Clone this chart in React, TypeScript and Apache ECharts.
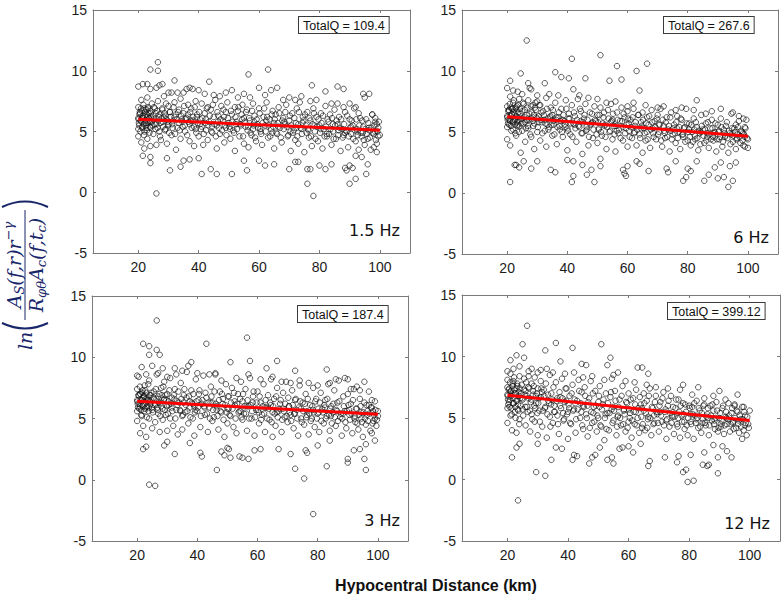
import React, { useEffect, useRef } from "react";
import * as echarts from "echarts";

// ---------- data ----------
const xTicks = [20, 40, 60, 80, 100];
const freqLabels = ["1.5 Hz", "6 Hz", "3 Hz", "12 Hz"];
const totalQLabels = ["TotalQ = 109.4", "TotalQ = 267.6", "TotalQ = 187.4", "TotalQ = 399.12"];

const fit15 = [[20, 6.0], [100, 5.1]];
const fit6 = [[20, 6.25], [100, 4.65]];
const fit3 = [[20, 6.4], [100, 5.35]];
const fit12 = [[20, 6.85], [100, 4.8]];

const points15 = [
  [20,6.1],[20,5.2],[20,4.6],[20,7.0],[20.5,6.6],[21,5.8],[21,4.1],[21,7.6],[21.5,6.3],[22,5.0],[22,3.6],[22,6.9],[22.5,5.5],[23,6.2],[23,7.8],[23,4.4],[23.5,5.9],[24,6.7],[24,3.8],[24,5.3],[24.5,7.3],[25,6.0],[25,4.8],
  [25.5,6.9],[26,5.6],[26,3.9],[26.5,7.5],[27,6.4],[27,5.0],[27.5,4.3],[28,6.8],[28,5.8],[28.5,7.9],[29,5.2],[29,6.3],[29.5,4.0],[30,7.1],[30,5.6],
  [30.5,6.6],[31,4.7],[31.5,5.9],[32,7.4],[32,6.2],[32.5,3.5],[33,5.3],[33.5,6.8],[34,4.4],[34,7.7],[34.5,5.8],[35,6.5],
  [35.5,5.0],[36,6.1],[36.5,7.2],[37,4.2],[37,5.6],[37.5,6.9],[38,5.9],[38.5,3.8],[39,7.5],[39,5.2],[39.5,6.4],[40,4.6],
  [40.5,6.0],[41,7.3],[41,5.4],[41.5,3.9],[42,6.5],[42.5,5.1],[43,7.0],[43,4.3],[43.5,5.8],[44,6.8],[44.5,4.9],[45,6.2],
  [45.5,7.6],[46,5.5],[46,3.6],[46.5,6.3],[47,4.8],[47.5,7.1],[48,5.9],[48.5,4.1],[49,6.6],[49,5.3],[49.5,7.4],[50,5.7],
  [50.5,4.4],[51,6.4],[51.5,5.1],[52,7.0],[52,3.4],[52.5,5.8],[53,6.7],[53.5,4.6],[54,5.5],[54.5,7.2],[55,4.0],[55,6.1],
  [55.5,5.4],[56,6.8],[56.5,3.7],[57,5.9],[57.5,4.7],[58,7.3],[58,5.2],[58.5,6.3],[59,4.2],[59.5,5.6],[60,6.9],
  [60.5,5.0],[61,3.9],[61.5,6.2],[62,5.5],[62.5,7.4],[63,4.5],[63.5,6.0],[64,5.2],[64.5,6.7],[65,3.6],[65,5.7],
  [65.5,6.4],[66,4.8],[66.5,7.0],[67,5.3],[67.5,4.1],[68,6.1],[68.5,5.6],[69,7.2],[69.5,4.6],[70,5.9],
  [70.5,3.4],[71,6.5],[71.5,5.1],[72,4.3],[72.5,6.9],[73,5.6],[73,4.0],[73.5,7.4],[74,5.2],[74.5,6.2],[75,3.3],
  [75.5,5.5],[76,6.6],[76.5,4.5],[77,5.9],[77.5,3.8],[78,6.9],[78.5,5.0],[79,6.2],[79.5,4.2],[80,5.5],
  [80.5,6.5],[81,3.6],[81.5,5.2],[82,7.1],[82.5,4.6],[83,5.8],[83.5,6.4],[84,3.9],[84.5,5.0],[85,6.8],
  [85.5,4.4],[86,5.6],[86.5,6.2],[87,3.4],[87.5,5.2],[88,4.7],[88.5,6.6],[89,5.0],[89.5,3.7],[90,6.0],
  [90.5,4.8],[91,5.5],[91.5,6.9],[92,4.2],[92.5,5.0],[93,3.5],[93.5,6.1],[94,4.6],[94.5,5.4],[95,3.9],
  [95.5,6.0],[96,4.4],[96.5,5.1],[97,3.5],[97.5,6.4],[98,4.8],[98.5,5.8],[99,4.0],[99.5,5.3],[100,4.7],
  [26,-0.1],[78,-0.3],[76,0.7],[90,0.7],[92,1.1],[26.5,10.7],[24,10.1],[26.5,10.0],[63,10.1],[56.5,9.7],[32,9.2],[43.5,9.1],
  [77.5,8.8],[86,8.7],[88,8.5],[94.5,8.1],[96.5,8.1],[95,7.8],[30.5,1.8],[41,1.5],[46,1.5],[51,1.5],[56,1.8],[76,1.9],[77,1.9],
  [84,2.3],[88.5,2.0],[89,1.8],[95.5,1.5],[96,2.3],[99,3.3],[98,3.7],[99.5,4.6],[99,5.6],[98.5,6.1],[97.5,6.4],[65,2.3],[55,2.6],
  [70,1.9],[24,2.4],[24,2.9],[21.5,3.0],[35,2.6],[34,2.1],[29.5,2.8],[37,2.7],[40,2.8],[44,1.9],[60,2.6],[62,2.2],[72,2.5],[73,2.5],
  [80,2.2],[82,1.9],[90,2.2],[91,2.0],[92,3.0],[94,2.9],
  [20,8.7],[21.5,8.9],[23,8.9],[24,8.5],[26,8.6],[27,8.8],[28,8.9],[30,8.2],[31,8.2],[33,8.2],[35,8.2],[36,8.5],[37,8.6],[38,8.5],
  [40,8.4],[42,8.1],[45,8.0],[47,7.9],[49,8.2],[51,8.4],[53,7.8],[55,8.1],[57,7.8],[60,8.6],[62,8.0],[64,8.4],[66,8.6],[68,7.6],
  [70,7.8],[72,7.6],[74,7.9],[77,7.5],[79,7.6],[82,8.3],[84,7.3],[86,7.3],[88,7.0],[90,7.3],[92,7.0],[93,6.5]
];
const core15 = [
  [20.2,5.7],[20.4,6.4],[20.7,5.0],[20.9,6.9],[21.2,6.1],[21.4,5.4],[21.7,7.2],[21.9,4.7],[22.2,6.3],[22.4,5.7],[22.7,6.8],[22.9,5.1],[23.2,7.0],[23.4,6.5],[23.7,4.9],[23.9,5.8],[24.2,6.2],[24.7,5.5],[25.2,7.0],[25.7,5.2],
  [26.2,6.7],[26.7,5.9],[27.2,4.6],[27.7,6.1],[28.2,5.4],[28.7,6.5],[29.2,7.3],[29.7,5.8],[30.2,4.9],[30.7,6.2],[31.2,5.6],[31.7,7.0],[32.2,4.8],[32.7,6.0],[33.2,6.6],[33.7,5.1],[34.2,6.3],[34.7,5.4],[35.2,7.1],[35.7,6.0],
  [36.2,4.7],[36.7,5.8],[37.2,6.6],[37.7,5.3],[38.2,6.2],[38.7,7.0],[39.2,4.9],[39.7,5.7],[40.2,6.6],[40.7,5.2],[41.2,6.1],[41.7,4.8],[42.2,5.7],[42.7,6.9],[43.2,5.5],[43.7,6.3],[44.2,5.0],[44.7,7.2],[45.2,5.6],[45.7,4.6],
  [46.2,6.6],[46.7,5.3],[47.2,6.0],[47.7,5.1],[48.2,6.8],[48.7,5.5],[49.2,4.7],[49.7,6.1],[50.2,5.4],[50.7,6.7],[51.2,5.8],[51.7,4.9],[52.2,6.2],[52.7,5.2],[53.2,7.0],[53.7,5.6],[54.2,6.4],[54.7,4.6],[55.2,5.8],[55.7,6.6],
  [56.2,5.1],[56.7,6.1],[57.2,4.9],[57.7,6.7],[58.2,5.5],[58.7,4.5],[59.2,6.0],[59.7,5.3],[60.2,6.5],[60.7,4.8],[61.2,5.7],[61.7,6.9],[62.2,5.0],[62.7,6.2],[63.2,5.5],[63.7,4.6],[64.2,6.4],[64.7,5.4],[65.2,6.0],[65.7,4.9],
  [66.2,5.7],[66.7,6.5],[67.2,4.5],[67.7,5.9],[68.2,5.2],[68.7,6.6],[69.2,5.4],[69.7,4.7],[70.2,6.3],[70.7,5.5],[71.2,4.9],[71.7,6.1],[72.2,5.7],[72.7,4.6],[73.2,6.6],[73.7,5.3],[74.2,4.8],[74.7,5.9],[75.2,6.4],[75.7,4.9],
  [76.2,5.2],[76.7,6.1],[77.2,4.6],[77.7,5.6],[78.2,6.5],[78.7,4.4],[79.2,5.4],[79.7,6.0],[80.2,4.9],[80.7,5.7],[81.2,6.3],[81.7,4.6],[82.2,5.4],[82.7,6.0],[83.2,4.8],[83.7,5.2],[84.2,6.1],[84.7,4.4],[85.2,5.5],[85.7,5.9],
  [86.2,4.7],[86.7,5.3],[87.2,6.0],[87.7,4.5],[88.2,5.6],[88.7,5.1],[89.2,6.3],[89.7,4.6],[90.2,5.3],[90.7,5.9],[91.2,4.4],[91.7,5.1],[92.2,6.0],[92.7,4.7],[93.2,5.5],[93.7,4.9],[94.2,5.9],[94.7,4.3],[95.2,5.2],[95.7,4.8],
  [96.2,5.7],[96.7,4.5],[97.2,5.3],[97.7,4.9],[98.2,5.5],[98.7,4.3],[99.2,5.0],[99.7,5.8]
];
const near15 = [
  [20.1,6.0],[20.3,5.5],[20.6,6.5],[20.8,5.9],[21.1,6.7],[21.3,5.3],[21.6,6.1],[21.8,5.6],[22.1,6.6],[22.3,5.9],[22.6,5.3],[22.8,6.4],[23.1,5.7],[23.3,6.9],[23.6,6.1],[23.8,5.4],[24.1,6.5],[24.4,5.8],[24.9,6.3],[25.4,5.6],
  [25.9,6.5],[26.4,5.3],[26.9,6.2],[27.4,5.7],[27.9,6.9],[28.4,6.2],[28.9,5.1],[29.4,6.0],[29.9,5.5],[30.4,6.6],[31.4,5.3],[32.4,6.4],[33.4,5.7],[34.4,6.0],[35.4,5.5],[36.4,6.4],[37.4,5.9],[38.4,5.4],[39.4,6.2],[40.4,5.6],
  [42.4,6.0],[44.4,5.4],[46.4,5.8],[48.4,6.2],[50.4,5.2],[52.4,5.6],[54.4,6.0],[56.4,5.4],[58.4,5.8],[60.4,5.2],[62.4,5.9],[64.4,4.9],[66.4,5.4],[68.4,5.8],[70.4,5.0],[72.4,5.3],[74.4,5.7],[76.4,5.1],[78.4,5.5],[80.4,5.2],
  [82.4,4.8],[84.4,5.6],[86.4,5.1],[88.4,4.9],[90.4,5.4],[92.4,5.2],[94.4,4.9],[96.4,5.3],[98.4,5.0]
];

const points6 = [
  [20,6.3],[20,5.4],[20,7.1],[20,4.4],[20.5,6.8],[21,5.9],[21,7.9],[21,3.9],[21.5,6.5],[22,5.2],[22,7.4],[22.5,6.0],[23,4.7],[23,6.9],[23.5,5.6],[24,7.7],[24,6.2],[24.5,3.3],[25,5.1],[25,6.7],
  [25.5,7.3],[26,5.8],[26,4.2],[26.5,6.4],[27,7.6],[27,5.3],[27.5,8.6],[28,6.1],[28,4.6],[28.5,7.2],[29,5.7],[29,3.6],[29.5,6.8],[30,7.5],[30,5.0],
  [30.5,6.3],[31,4.3],[31,7.2],[31.5,5.8],[32,6.7],[32.5,5.1],[33,7.8],[33,3.8],[33.5,6.1],[34,5.4],[34.5,7.0],[35,4.7],[35,6.4],
  [35.5,5.6],[36,7.4],[36.5,4.0],[37,6.2],[37.5,5.2],[38,6.9],[38.5,4.6],[39,5.9],[39.5,7.6],[40,5.3],[40,3.5],
  [40.5,6.5],[41,4.8],[41.5,7.2],[42,5.7],[42.5,6.3],[43,4.2],[43.5,7.7],[44,5.4],[44.5,6.7],[45,4.9],[45,3.2],
  [45.5,6.1],[46,7.3],[46.5,5.2],[47,3.9],[47.5,6.6],[48,5.7],[48.5,4.5],[49,7.1],[49.5,5.9],[50,6.4],[50,4.1],
  [50.5,5.3],[51,7.0],[51.5,4.7],[52,6.2],[52.5,5.6],[53,3.6],[53.5,6.8],[54,5.0],[54.5,7.3],[55,4.4],[55,6.0],
  [55.5,5.5],[56,3.4],[56.5,6.6],[57,4.9],[57.5,5.9],[58,7.0],[58.5,4.3],[59,6.2],[59.5,5.3],[60,3.8],[60,6.7],
  [60.5,5.1],[61,6.0],[61.5,4.5],[62,6.9],[62.5,5.5],[63,3.9],[63.5,6.4],[64,4.8],[64.5,5.8],[65,6.6],[65,3.3],
  [65.5,5.3],[66,4.3],[66.5,6.2],[67,5.6],[67.5,3.7],[68,6.8],[68.5,4.9],[69,5.9],[69.5,4.4],[70,6.4],
  [70.5,5.0],[71,6.9],[71.5,3.8],[72,5.5],[72.5,4.5],[73,6.2],[73.5,5.2],[74,3.4],[74.5,6.6],[75,4.8],
  [75.5,5.6],[76,4.1],[76.5,6.3],[77,5.0],[77.5,3.6],[78,6.0],[78.5,4.6],[79,5.4],[79.5,6.9],[80,4.3],
  [80.5,5.7],[81,3.9],[81.5,5.0],[82,6.1],[82.5,4.4],[83,5.4],[83.5,3.5],[84,4.9],[84.5,6.4],[85,5.2],
  [85.5,4.1],[86,5.7],[86.5,4.6],[87,3.7],[87.5,5.3],[88,6.0],[88.5,4.3],[89,5.0],[89.5,3.4],[90,5.6],
  [90.5,4.4],[91,6.1],[91.5,3.8],[92,5.2],[92.5,4.7],[93,5.8],[93.5,3.3],[94,4.9],[94.5,6.5],[95,4.2],
  [95.5,5.3],[96,3.6],[96.5,4.8],[97,5.9],[97.5,4.1],[98,5.0],[98.5,3.9],[99,4.6],[99.5,6.0],[100,4.4],
  [26.5,12.5],[51,11.3],[41.5,11.0],[66.5,10.6],[56.5,10.4],[63,10.0],[24.5,9.8],[36,9.9],[40.5,9.4],[38,9.5],[46,9.4],[54,9.2],
  [58,9.3],[21,9.2],[27,9.0],[32.5,9.0],[64,8.4],[83,7.6],[21,0.9],[41.5,0.9],[49,0.9],[93.5,0.5],[95,1.0],[85.5,1.0],[78.5,1.0],
  [90,1.2],[79.5,1.3],[42,1.4],[46.5,1.5],[59.5,1.4],[59,1.6],[58.5,1.9],[36,1.7],[34.5,1.9],[48,1.9],[67,1.8],[73.5,1.7],[73,2.0],
  [80,2.0],[81,1.8],[87,1.5],[92,1.3],[94,2.2],[64,2.4],[63,2.6],[45,2.3],[51,2.8],[51,2.2],[23,2.3],[22.5,2.3],[24,2.1],[25.5,2.6],
  [28,2.0],[30,2.6],[40,2.7],[42,2.6],[60,2.2],[76,2.6],[83,2.6],[89,2.1],[91,2.5],[96,2.5],[99,3.8],[100,3.7],[98.5,6.1],[97,6.3],
  [96,5.6],[99,5.4],
  [20,8.6],[22,8.4],[23.5,8.3],[25,8.1],[28,8.5],[30,8.0],[34,8.1],[37,8.0],[42,8.5],[44,8.0],[47,7.8],[50,7.7],[53,7.4],[56,7.5],
  [60,7.1],[62,7.4],[66,7.2],[70,7.0],[72,7.1],[76,6.8],[78,7.0],[82,6.8],[86,6.5],[88,6.7],[91,6.9],[95,6.6]
];
const core6 = [
  [20.2,6.0],[20.4,6.7],[20.7,5.6],[20.9,7.3],[21.2,6.3],[21.4,5.1],[21.7,6.9],[21.9,5.8],[22.2,7.6],[22.4,6.4],[22.7,4.9],[22.9,6.1],[23.2,7.1],[23.4,5.5],[23.7,6.6],[23.9,5.0],[24.2,6.9],[24.7,5.7],[25.2,7.4],[25.7,6.2],
  [26.2,5.3],[26.7,7.0],[27.2,6.0],[27.7,4.8],[28.2,6.6],[28.7,5.5],[29.2,7.0],[29.7,6.2],[30.2,5.4],[30.7,7.2],[31.2,6.0],[31.7,4.9],[32.2,6.4],[32.7,5.7],[33.2,6.9],[33.7,5.2],[34.2,6.2],[34.7,5.6],[35.2,6.8],[35.7,4.8],
  [36.2,6.0],[36.7,5.4],[37.2,6.6],[37.7,5.9],[38.2,5.0],[38.7,6.4],[39.2,5.6],[39.7,6.9],[40.2,5.1],[40.7,6.1],[41.2,5.7],[41.7,4.6],[42.2,6.6],[42.7,5.3],[43.2,6.0],[43.7,5.5],[44.2,6.9],[44.7,4.9],[45.2,5.8],[45.7,6.4],
  [46.2,5.1],[46.7,6.0],[47.2,4.6],[47.7,5.6],[48.2,6.5],[48.7,5.2],[49.2,6.0],[49.7,4.8],[50.2,5.8],[50.7,6.4],[51.2,5.0],[51.7,5.7],[52.2,6.6],[52.7,4.6],[53.2,5.4],[53.7,6.1],[54.2,5.1],[54.7,5.9],[55.2,6.5],[55.7,4.8],
  [56.2,5.5],[56.7,6.0],[57.2,5.2],[57.7,4.5],[58.2,5.9],[58.7,6.5],[59.2,4.9],[59.7,5.6],[60.2,6.1],[60.7,4.6],[61.2,5.4],[61.7,6.2],[62.2,4.9],[62.7,5.8],[63.2,5.2],[63.7,6.4],[64.2,4.5],[64.7,5.5],[65.2,6.0],[65.7,4.9],
  [66.2,5.7],[66.7,4.4],[67.2,6.3],[67.7,5.2],[68.2,5.8],[68.7,4.6],[69.2,5.4],[69.7,6.1],[70.2,4.8],[70.7,5.6],[71.2,4.3],[71.7,6.0],[72.2,5.1],[72.7,5.8],[73.2,4.6],[73.7,5.5],[74.2,6.2],[74.7,4.4],[75.2,5.3],[75.7,4.9],
  [76.2,5.8],[76.7,4.5],[77.2,5.4],[77.7,6.1],[78.2,4.8],[78.7,5.3],[79.2,4.2],[79.7,5.7],[80.2,5.0],[80.7,4.6],[81.2,5.6],[81.7,4.2],[82.2,5.2],[82.7,5.8],[83.2,4.5],[83.7,5.1],[84.2,4.0],[84.7,5.5],[85.2,4.7],[85.7,5.2],
  [86.2,4.3],[86.7,5.8],[87.2,4.8],[87.7,4.4],[88.2,5.3],[88.7,4.9],[89.2,5.7],[89.7,4.4],[90.2,5.0],[90.7,4.6],[91.2,5.4],[91.7,4.2],[92.2,4.9],[92.7,5.5],[93.2,4.5],[93.7,5.1],[94.2,4.0],[94.7,5.3],[95.2,4.7],[95.7,5.0],
  [96.2,4.4],[96.7,5.4],[97.2,4.6],[97.7,5.1],[98.2,4.3],[98.7,4.8],[99.2,5.3],[99.7,4.5]
];
const near6 = [
  [20.1,6.2],[20.3,5.7],[20.6,6.8],[20.8,6.0],[21.1,7.0],[21.3,5.5],[21.6,6.4],[21.8,6.9],[22.1,5.9],[22.3,6.6],[22.6,5.6],[22.8,7.0],[23.1,6.3],[23.3,5.8],[23.6,7.2],[23.8,6.0],[24.1,5.5],[24.4,6.5],[24.9,6.1],[25.4,5.7],
  [25.9,6.8],[26.4,6.0],[26.9,5.5],[27.4,6.5],[27.9,7.1],[28.4,5.9],[28.9,6.4],[29.4,7.4],[29.9,6.1],[30.4,5.8],[31.4,6.6],[32.4,6.0],[33.4,5.6],[34.4,6.3],[35.4,5.9],[36.4,6.2],[37.4,5.5],[38.4,6.0],[39.4,5.4],[40.4,6.1],
  [42.4,5.6],[44.4,5.9],[46.4,5.4],[48.4,5.8],[50.4,5.2],[52.4,5.5],[54.4,5.8],[56.4,5.1],[58.4,5.4],[60.4,5.7],[62.4,5.0],[64.4,5.3],[66.4,5.0],[68.4,5.3],[70.4,5.6],[72.4,4.9],[74.4,5.1],[76.4,5.3],[78.4,4.8],[80.4,5.2],
  [82.4,4.7],[84.4,5.0],[86.4,4.9],[88.4,4.6],[90.4,5.1],[92.4,4.6],[94.4,4.8],[96.4,4.5],[98.4,4.9]
];

const points3 = [
  [20,6.5],[20,5.6],[20,7.4],[20,4.8],[20.5,8.4],[21,6.0],[21,3.8],[21,7.0],[21.5,5.2],[22,6.7],[22,4.4],[22.5,7.7],[23,5.9],[23,3.5],[23.5,6.4],[24,5.0],[24,8.1],[24.5,6.9],[25,4.2],[25,5.7],
  [25.5,7.2],[26,6.2],[26,4.7],[26.5,8.6],[27,5.4],[27,6.8],[27.5,3.9],[28,7.5],[28,6.0],[28.5,4.9],[29,6.6],[29,8.0],[29.5,5.3],[30,4.0],[30,7.0],
  [30.5,6.1],[31,5.0],[31,8.3],[31.5,6.7],[32,4.4],[32.5,7.4],[33,5.7],[33.5,3.7],[34,6.3],[34.5,7.9],[35,5.2],[35,4.1],
  [35.5,6.9],[36,5.5],[36.5,8.8],[37,4.6],[37.5,6.4],[38,7.3],[38.5,5.0],[39,3.6],[39,6.0],[39.5,8.2],[40,5.6],
  [40.5,7.0],[41,4.3],[41.5,6.2],[42,8.5],[42.5,5.3],[43,6.7],[43.5,3.9],[44,5.9],[44.5,7.6],[45,4.8],[45,6.3],
  [45.5,5.1],[46,8.6],[46.5,6.0],[47,4.1],[47.5,7.2],[48,5.5],[48.5,6.6],[49,3.5],[49.5,7.8],[50,5.8],[50,4.6],
  [50.5,6.8],[51,5.2],[51.5,7.5],[52,4.3],[52.5,6.1],[53,3.8],[53.5,7.0],[54,5.6],[54.5,8.0],[55,4.9],[55,6.4],
  [55.5,5.4],[56,7.4],[56.5,4.0],[57,6.0],[57.5,8.3],[58,5.0],[58.5,6.8],[59,3.6],[59.5,5.7],[60,7.2],
  [60.5,4.6],[61,6.3],[61.5,5.3],[62,7.8],[62.5,3.9],[63,5.9],[63.5,6.9],[64,4.9],[64.5,8.2],[65,5.5],[65,3.5],
  [65.5,6.6],[66,4.4],[66.5,7.5],[67,5.6],[67.5,6.2],[68,3.9],[68.5,7.1],[69,5.1],[69.5,8.0],[70,4.7],
  [70.5,6.0],[71,5.3],[71.5,7.3],[72,4.2],[72.5,6.5],[73,5.7],[73.5,3.6],[74,7.7],[74.5,5.0],[75,6.3],
  [75.5,4.5],[76,7.0],[76.5,5.6],[77,3.7],[77.5,6.1],[78,5.0],[78.5,7.5],[79,4.3],[79.5,6.6],[80,5.4],
  [80.5,3.9],[81,7.1],[81.5,5.8],[82,4.6],[82.5,6.5],[83,5.2],[83.5,7.8],[84,4.0],[84.5,6.0],[85,5.5],
  [85.5,7.3],[86,4.4],[86.5,6.3],[87,8.1],[87.5,5.1],[88,3.6],[88.5,6.8],[89,5.6],[89.5,4.2],[90,7.0],
  [90.5,5.3],[91,6.2],[91.5,3.8],[92,7.4],[92.5,4.7],[93,5.8],[93.5,4.1],[94,6.6],[94.5,5.0],[95,3.5],
  [95.5,6.3],[96,4.5],[96.5,5.6],[97,7.2],[97.5,4.0],[98,5.9],[98.5,4.8],[99,6.4],[99.5,4.4],[100,5.2],
  [26.5,13.0],[22,11.1],[43,11.1],[56.5,11.6],[24,10.9],[26.5,10.6],[24,10.2],[27.5,10.2],[51,9.6],[57.5,9.7],[66.5,9.7],[63,9.1],
  [72.5,8.9],[83,9.0],[38,9.6],[37,9.3],[25,9.3],[21.5,9.2],[28.5,9.1],[32.5,9.1],[89,8.3],[93,7.6],[95.5,8.0],[24,-0.4],[26,-0.5],
  [78.5,-2.8],[75.5,0.1],[46.5,0.8],[72.5,0.9],[83,1.1],[90,1.4],[90,1.7],[96,0.8],[95.5,1.7],[22,2.5],[23,2.7],[41.5,1.9],[41,2.2],
  [32.5,2.1],[29,2.8],[30,3.1],[37.5,3.0],[50,2.6],[51,1.8],[50.5,2.5],[48,2.3],[49,2.0],[54,1.9],[55,1.8],[57,1.7],[59,2.4],[61,2.5],
  [67,2.5],[71,2.1],[76.5,2.2],[76,2.4],[80,2.8],[84,3.2],[92,2.4],[94,2.5],[96,2.9],[99,3.2],[98,3.8],[100,5.6],[99,5.0],[97,6.1],[98,6.5],
  [20,8.5],[23,8.6],[27,8.7],[30,8.4],[33,8.6],[35,8.9],[40,8.7],[44,8.6],[46,8.7],[48,8.1],[53,8.3],[57,8.6],[61,8.2],[65,8.4],
  [68,8.0],[71,7.9],[74,8.1],[77,7.9],[80,7.7],[84,7.9],[86,8.2],[90,8.2],[91,7.4],[94,7.3]
];
const core3 = [
  [20.2,6.2],[20.4,6.9],[20.7,5.8],[20.9,7.6],[21.2,6.5],[21.4,5.3],[21.7,7.1],[21.9,6.0],[22.2,6.8],[22.4,5.6],[22.7,7.3],[22.9,6.3],[23.2,5.1],[23.4,6.7],[23.7,7.8],[23.9,5.9],[24.2,6.4],[24.7,7.1],[25.2,5.5],[25.7,6.6],
  [26.2,7.4],[26.7,5.9],[27.2,6.3],[27.7,5.2],[28.2,6.9],[28.7,7.6],[29.2,5.7],[29.7,6.5],[30.2,5.4],[30.7,7.3],[31.2,6.2],[31.7,5.6],[32.2,6.9],[32.7,5.0],[33.2,6.4],[33.7,7.2],[34.2,5.7],[34.7,6.6],[35.2,5.3],[35.7,7.4],
  [36.2,6.1],[36.7,5.6],[37.2,6.8],[37.7,5.1],[38.2,6.3],[38.7,7.0],[39.2,5.5],[39.7,6.4],[40.2,5.9],[40.7,7.3],[41.2,5.2],[41.7,6.5],[42.2,6.0],[42.7,7.1],[43.2,5.4],[43.7,6.3],[44.2,5.0],[44.7,6.8],[45.2,5.7],[45.7,7.2],
  [46.2,6.2],[46.7,5.2],[47.2,6.5],[47.7,5.6],[48.2,7.0],[48.7,4.9],[49.2,6.1],[49.7,5.5],[50.2,6.8],[50.7,5.3],[51.2,6.3],[51.7,5.8],[52.2,7.1],[52.7,5.0],[53.2,6.2],[53.7,5.5],[54.2,6.6],[54.7,5.1],[55.2,7.0],[55.7,6.0],
  [56.2,5.4],[56.7,6.5],[57.2,5.0],[57.7,6.1],[58.2,5.6],[58.7,7.2],[59.2,5.1],[59.7,6.3],[60.2,5.7],[60.7,6.8],[61.2,4.9],[61.7,6.0],[62.2,5.4],[62.7,6.5],[63.2,5.0],[63.7,5.8],[64.2,6.3],[64.7,4.7],[65.2,6.0],[65.7,5.4],
  [66.2,6.8],[66.7,5.1],[67.2,5.8],[67.7,6.5],[68.2,4.9],[68.7,5.6],[69.2,6.2],[69.7,5.2],[70.2,6.7],[70.7,5.5],[71.2,4.8],[71.7,6.1],[72.2,5.4],[72.7,6.6],[73.2,5.0],[73.7,5.9],[74.2,6.4],[74.7,4.7],[75.2,5.6],[75.7,6.2],
  [76.2,5.1],[76.7,6.6],[77.2,5.4],[77.7,4.8],[78.2,6.0],[78.7,5.5],[79.2,6.4],[79.7,5.0],[80.2,5.8],[80.7,6.3],[81.2,4.8],[81.7,5.5],[82.2,6.1],[82.7,5.0],[83.2,6.6],[83.7,5.3],[84.2,5.8],[84.7,4.6],[85.2,6.2],[85.7,5.1],
  [86.2,5.7],[86.7,4.8],[87.2,6.4],[87.7,5.4],[88.2,5.0],[88.7,6.0],[89.2,4.7],[89.7,5.6],[90.2,6.1],[90.7,4.9],[91.2,5.4],[91.7,6.5],[92.2,5.0],[92.7,5.8],[93.2,4.6],[93.7,5.3],[94.2,6.0],[94.7,4.7],[95.2,5.5],[95.7,5.0],
  [96.2,6.1],[96.7,4.8],[97.2,5.4],[97.7,5.9],[98.2,4.6],[98.7,5.3],[99.2,5.7],[99.7,4.9]
];
const near3 = [
  [20.1,6.4],[20.3,5.9],[20.6,6.9],[20.8,6.2],[21.1,7.0],[21.3,5.7],[21.6,6.5],[21.8,7.3],[22.1,6.1],[22.3,6.8],[22.6,5.8],[22.8,6.6],[23.1,7.1],[23.3,6.0],[23.6,6.5],[23.8,5.6],[24.1,6.9],[24.4,6.2],[24.9,5.9],[25.4,6.7],
  [25.9,6.1],[26.4,6.6],[26.9,5.7],[27.4,7.0],[27.9,6.3],[28.4,5.8],[28.9,6.5],[29.4,6.9],[29.9,6.0],[30.4,6.4],[31.4,5.9],[32.4,6.6],[33.4,6.1],[34.4,5.6],[35.4,6.3],[36.4,6.7],[37.4,5.9],[38.4,6.2],[39.4,5.7],[40.4,6.5],
  [42.4,5.9],[44.4,6.3],[46.4,5.7],[48.4,6.2],[50.4,5.8],[52.4,6.4],[54.4,5.6],[56.4,6.0],[58.4,6.3],[60.4,5.5],[62.4,5.9],[64.4,6.1],[66.4,5.5],[68.4,5.8],[70.4,6.0],[72.4,5.4],[74.4,5.8],[76.4,5.3],[78.4,5.7],[80.4,5.5],
  [82.4,5.9],[84.4,5.2],[86.4,5.6],[88.4,5.4],[90.4,5.7],[92.4,5.2],[94.4,5.5],[96.4,5.3],[98.4,5.6]
];

const points12 = [
  [20,6.9],[20,5.8],[20,8.1],[20,4.6],[20,7.5],[20.5,6.3],[21,8.6],[21,5.2],[21,7.1],[21.5,4.0],[22,6.6],[22,8.0],[22.5,5.5],[23,7.4],[23,3.8],[23.5,6.1],[24,8.4],[24,4.9],[24.5,7.0],[25,5.7],[25,6.5],
  [25.5,8.2],[26,4.4],[26,7.2],[26.5,5.9],[27,8.8],[27,6.6],[27.5,3.9],[28,7.8],[28,5.3],[28.5,6.9],[29,4.7],[29,8.3],[29.5,6.2],[30,7.4],[30,3.6],
  [30.5,5.6],[31,8.0],[31,6.7],[31.5,4.3],[32,7.3],[32.5,5.9],[33,3.4],[33.5,6.4],[34,8.5],[34,5.1],[34.5,7.0],[35,4.6],
  [35.5,6.0],[36,7.9],[36.5,5.2],[37,3.7],[37.5,6.7],[38,8.2],[38.5,4.8],[39,6.3],[39.5,7.4],[40,5.5],[40,3.3],
  [40.5,6.8],[41,4.5],[41.5,7.7],[42,5.7],[42.5,3.8],[43,6.4],[43.5,8.1],[44,5.0],[44.5,7.1],[45,4.1],[45,6.0],
  [45.5,7.5],[46,5.3],[46.5,3.5],[47,6.6],[47.5,8.0],[48,4.6],[48.5,5.9],[49,7.2],[49.5,3.9],[50,6.3],[50,5.0],
  [50.5,7.6],[51,4.3],[51.5,6.1],[52,3.2],[52.5,7.0],[53,5.4],[53.5,4.0],[54,6.7],[54.5,8.2],[55,4.8],[55,5.9],
  [55.5,7.2],[56,3.6],[56.5,5.2],[57,6.5],[57.5,4.4],[58,7.6],[58.5,5.7],[59,3.9],[59.5,6.2],[60,4.7],[60,7.0],
  [60.5,5.4],[61,3.4],[61.5,6.6],[62,4.5],[62.5,7.3],[63,5.0],[63.5,3.8],[64,6.1],[64.5,4.2],[65,7.0],[65,5.6],
  [65.5,4.0],[66,6.4],[66.5,5.1],[67,7.4],[67.5,3.6],[68,5.8],[68.5,4.6],[69,6.8],[69.5,5.3],[70,3.9],
  [70.5,6.3],[71,4.7],[71.5,7.1],[72,5.5],[72.5,3.3],[73,6.0],[73.5,4.3],[74,6.8],[74.5,5.1],[75,3.7],
  [75.5,5.8],[76,4.5],[76.5,6.5],[77,3.4],[77.5,5.2],[78,6.2],[78.5,4.1],[79,5.5],[79.5,3.6],[80,6.0],
  [80.5,4.7],[81,5.9],[81.5,3.3],[82,5.2],[82.5,6.4],[83,4.2],[83.5,5.6],[84,3.8],[84.5,4.9],[85,6.1],
  [85.5,4.4],[86,5.3],[86.5,3.6],[87,6.0],[87.5,4.8],[88,5.6],[88.5,4.1],[89,6.3],[89.5,3.9],[90,5.0],
  [90.5,4.3],[91,5.8],[91.5,3.7],[92,5.1],[92.5,4.5],[93,6.2],[93.5,3.9],[94,5.4],[94.5,4.7],[95,6.0],
  [95.5,4.2],[96,5.5],[96.5,3.8],[97,4.9],[97.5,5.9],[98,4.0],[98.5,5.2],[99,3.6],[99.5,4.5],[100,5.6],
  [26.5,12.5],[36,11.1],[25,11.0],[51,11.0],[41.5,10.7],[32.5,10.5],[23,10.1],[25.5,9.9],[54,9.9],[21,9.7],[37.5,9.6],[44.5,9.4],
  [46,9.3],[53,9.3],[63,9.1],[64.5,9.1],[66.5,8.6],[56.5,8.7],[28,9.0],[30,8.7],[33,9.0],[78,7.7],[83,7.5],[90,7.2],[96,6.9],
  [23.5,-1.7],[29.5,0.6],[32.5,0.3],[79.5,-0.2],[81.5,-0.1],[78,0.6],[79,0.8],[89.5,0.5],[21.5,1.8],[34.5,1.6],[41.5,1.6],[42,2.0],
  [43,1.9],[47,1.3],[48,1.8],[53,1.6],[55,1.3],[54.5,1.8],[61.5,2.2],[66.5,1.1],[67,1.5],[72,1.8],[76.5,1.9],[76,1.4],[80.5,2.0],
  [84.5,1.2],[86,1.1],[86.5,1.2],[89.5,1.8],[85,2.2],[94,1.8],[91,2.7],[88,2.8],[23,2.6],[24,2.9],[30,2.9],[36,2.6],[38,2.5],[49,2.0],
  [50.5,2.6],[57,2.5],[58,2.6],[60,2.7],[64,2.9],[92.5,2.3],[97.5,3.3],
  [20,8.8],[22,9.0],[24,9.2],[27,8.4],[31,8.9],[35,8.7],[39,8.6],[42,8.7],[45,8.3],[48,8.4],[52,8.1],[55,8.5],[59,8.0],[62,7.9],
  [66,7.7],[69,7.5],[73,7.4],[77,7.3],[81,6.9],[85,6.6],[88,6.8],[92,6.5],[95,6.1],[98,5.9]
];
const core12 = [
  [20.2,6.5],[20.4,7.3],[20.7,5.9],[20.9,7.9],[21.2,6.8],[21.4,5.3],[21.7,7.6],[21.9,6.2],[22.2,8.3],[22.4,7.0],[22.7,5.0],[22.9,6.4],[23.2,7.8],[23.4,5.7],[23.7,7.1],[23.9,4.5],[24.2,6.6],[24.7,7.7],[25.2,5.2],[25.7,6.9],
  [26.2,7.9],[26.7,5.5],[27.2,7.4],[27.7,6.3],[28.2,4.9],[28.7,7.6],[29.2,5.8],[29.7,7.0],[30.2,6.2],[30.7,4.7],[31.2,7.4],[31.7,5.6],[32.2,6.8],[32.7,7.8],[33.2,5.3],[33.7,6.2],[34.2,4.3],[34.7,6.5],[35.2,7.5],[35.7,5.5],
  [36.2,6.4],[36.7,4.5],[37.2,7.1],[37.7,5.8],[38.2,6.6],[38.7,4.9],[39.2,7.4],[39.7,5.3],[40.2,6.1],[40.7,4.6],[41.2,7.0],[41.7,5.6],[42.2,6.5],[42.7,4.9],[43.2,5.7],[43.7,7.2],[44.2,6.2],[44.7,4.4],[45.2,5.9],[45.7,6.8],
  [46.2,5.0],[46.7,6.3],[47.2,4.2],[47.7,5.5],[48.2,7.0],[48.7,4.7],[49.2,6.0],[49.7,5.2],[50.2,6.8],[50.7,4.4],[51.2,5.7],[51.7,6.5],[52.2,5.0],[52.7,4.1],[53.2,6.2],[53.7,5.4],[54.2,7.1],[54.7,4.6],[55.2,5.6],[55.7,6.4],
  [56.2,4.3],[56.7,5.9],[57.2,5.0],[57.7,6.8],[58.2,4.5],[58.7,5.3],[59.2,6.3],[59.7,4.2],[60.2,5.7],[60.7,6.5],[61.2,4.8],[61.7,5.5],[62.2,6.1],[62.7,4.4],[63.2,5.8],[63.7,6.7],[64.2,5.1],[64.7,4.5],[65.2,6.2],[65.7,5.4],
  [66.2,4.2],[66.7,6.8],[67.2,5.0],[67.7,5.9],[68.2,4.5],[68.7,6.3],[69.2,5.5],[69.7,4.6],[70.2,6.0],[70.7,5.2],[71.2,6.6],[71.7,4.4],[72.2,5.7],[72.7,4.9],[73.2,6.4],[73.7,5.4],[74.2,4.6],[74.7,5.9],[75.2,5.1],[75.7,6.5],
  [76.2,4.3],[76.7,5.5],[77.2,6.0],[77.7,4.7],[78.2,5.3],[78.7,6.1],[79.2,4.4],[79.7,5.0],[80.2,5.8],[80.7,4.5],[81.2,5.3],[81.7,6.2],[82.2,4.6],[82.7,5.0],[83.2,5.8],[83.7,4.3],[84.2,5.4],[84.7,6.0],[85.2,4.6],[85.7,5.1],
  [86.2,5.8],[86.7,4.4],[87.2,5.2],[87.7,6.1],[88.2,4.5],[88.7,5.0],[89.2,5.6],[89.7,4.2],[90.2,5.4],[90.7,4.8],[91.2,6.0],[91.7,4.4],[92.2,5.5],[92.7,4.9],[93.2,5.2],[93.7,4.5],[94.2,5.8],[94.7,4.1],[95.2,5.0],[95.7,5.6],
  [96.2,4.5],[96.7,5.2],[97.2,4.3],[97.7,4.9],[98.2,5.5],[98.7,4.6],[99.2,5.1],[99.7,4.2]
];
const near12 = [
  [20.1,6.8],[20.3,6.1],[20.6,7.4],[20.8,6.5],[21.1,7.2],[21.3,5.8],[21.6,6.9],[21.8,7.8],[22.1,6.2],[22.3,7.3],[22.6,5.9],[22.8,7.0],[23.1,6.4],[23.3,7.6],[23.6,5.6],[23.8,6.8],[24.1,7.4],[24.4,6.0],[24.9,6.6],[25.4,7.3],
  [25.9,5.9],[26.4,6.8],[26.9,7.5],[27.4,5.6],[27.9,6.5],[28.4,7.2],[28.9,6.0],[29.4,6.8],[29.9,5.4],[30.4,6.6],[31.4,7.1],[32.4,5.8],[33.4,6.9],[34.4,6.1],[35.4,5.5],[36.4,6.6],[37.4,6.0],[38.4,5.4],[39.4,6.4],[40.4,5.8],
  [42.4,6.2],[44.4,5.5],[46.4,6.0],[48.4,5.4],[50.4,5.9],[52.4,5.3],[54.4,5.7],[56.4,5.1],[58.4,5.6],[60.4,5.0],[62.4,5.5],[64.4,5.8],[66.4,4.9],[68.4,5.2],[70.4,5.5],[72.4,4.8],[74.4,5.2],[76.4,5.0],[78.4,4.7],[80.4,5.3],
  [82.4,4.9],[84.4,4.6],[86.4,5.0],[88.4,4.8],[90.4,4.5],[92.4,5.0],[94.4,4.6],[96.4,4.8],[98.4,4.4]
];

// ---------- layout ----------
const panelGrids = [
  { left: 93, top: 10, width: 317, height: 243 },
  { left: 462, top: 10, width: 316, height: 244 },
  { left: 92, top: 296, width: 316, height: 245 },
  { left: 462, top: 295, width: 318, height: 246 },
];
const qBoxPos = [[299, 17], [664, 17], [298, 306], [668, 303]];
const freqPos = [[400, 230], [769, 237], [400, 520], [770, 523]];

const AXIS_COLOR = "#7a7a7a";
const LABEL_COLOR = "#1c1c1c";
const NAVY = "#18266a";
const SANS = '"Liberation Sans", Arial, Helvetica, sans-serif';
const SERIF = '"DejaVu Serif", serif';

function buildOption() {
  const pointSets = [
    points15.concat(core15, near15),
    points6.concat(core6, near6),
    points3.concat(core3, near3),
    points12.concat(core12, near12),
  ];
  const fits = [fit15, fit6, fit3, fit12];
  const grids: any[] = [];
  const xAxes: any[] = [];
  const yAxes: any[] = [];
  const series: any[] = [];
  const graphics: any[] = [];
  const axisLine = { show: true, onZero: false, lineStyle: { color: AXIS_COLOR, width: 1 } };
  const tickStyle = { show: true, inside: true, length: 3, lineStyle: { color: AXIS_COLOR, width: 1 } };

  panelGrids.forEach((g, i) => {
    grids.push({ ...g, containLabel: false });
    xAxes.push({
      type: "value", gridIndex: i, position: "bottom", min: 5, max: 110,
      splitLine: { show: false }, axisLine,
      axisTick: { ...tickStyle, customValues: xTicks },
      axisLabel: { customValues: xTicks, fontSize: 14, fontFamily: SANS, color: LABEL_COLOR, margin: 7 },
    });
    xAxes.push({
      type: "value", gridIndex: i, position: "top", min: 5, max: 110,
      splitLine: { show: false }, axisLine,
      axisTick: { ...tickStyle, customValues: xTicks },
      axisLabel: { show: false },
    });
    yAxes.push({
      type: "value", gridIndex: i, position: "left", min: -5, max: 15, interval: 5,
      splitLine: { show: false }, axisLine, axisTick: tickStyle,
      axisLabel: { fontSize: 14, fontFamily: SANS, color: LABEL_COLOR, margin: 6 },
    });
    yAxes.push({
      type: "value", gridIndex: i, position: "right", min: -5, max: 15, interval: 5,
      splitLine: { show: false }, axisLine, axisTick: tickStyle,
      axisLabel: { show: false },
    });
    series.push({
      type: "scatter", xAxisIndex: 2 * i, yAxisIndex: 2 * i, data: pointSets[i],
      symbol: "circle", symbolSize: 5.5, silent: true, z: 2,
      itemStyle: { color: "rgba(255,255,255,0)", borderColor: "#111", borderWidth: 0.85 },
    });
    series.push({
      type: "line", xAxisIndex: 2 * i, yAxisIndex: 2 * i, data: fits[i],
      symbol: "none", silent: true, z: 3,
      lineStyle: { color: "#ff0000", width: 3 },
    });
    graphics.push({
      type: "text", x: qBoxPos[i][0], y: qBoxPos[i][1], z: 10,
      style: {
        text: totalQLabels[i], fontSize: 12.5, fontFamily: SANS, fill: "#111",
        align: "left", verticalAlign: "top",
        backgroundColor: "#fff", borderColor: "#3a3a3a", borderWidth: 1, padding: [2, 4, 1, 4],
      },
    });
    graphics.push({
      type: "text", x: freqPos[i][0], y: freqPos[i][1], z: 10,
      style: {
        text: freqLabels[i], fontSize: 16, fontFamily: '"DejaVu Sans", sans-serif', fill: "#111",
        align: "right", verticalAlign: "middle",
      },
    });
  });

  graphics.push({
    type: "text", x: 436, y: 585, z: 10,
    style: {
      text: "Hypocentral Distance (km)", fontSize: 16, fontWeight: "bold", fontFamily: SANS,
      fill: "#111", align: "center", verticalAlign: "middle",
    },
  });

  const mainTok = { fontSize: 19, fontStyle: "italic", fontFamily: SERIF, fill: NAVY, lineHeight: 24, verticalAlign: "middle" };
  const subTok = { fontSize: 13, fontStyle: "italic", fontFamily: SERIF, fill: NAVY, lineHeight: 13, verticalAlign: "bottom" };
  const supTok = { fontSize: 13, fontStyle: "italic", fontFamily: SERIF, fill: NAVY, lineHeight: 13, verticalAlign: "top" };
  const rich = { m: mainTok, s: subTok, p: supTok };

  graphics.push({
    type: "group", x: 25, y: 276, rotation: Math.PI / 2, z: 10,
    children: [
      { type: "text", x: -74, y: 0, style: { text: "ln", fontSize: 19, fontStyle: "italic", fontFamily: SERIF, fill: NAVY, align: "left", verticalAlign: "middle" } },
      { type: "bezierCurve", shape: { x1: -47, y1: -23, cpx1: -58, cpy1: 0, x2: -47, y2: 23 }, style: { stroke: NAVY, lineWidth: 2, fill: null } },
      { type: "line", shape: { x1: -44, y1: 0, x2: 66, y2: 0 }, style: { stroke: NAVY, lineWidth: 1 } },
      { type: "text", x: 11, y: -11, style: { text: "{m|A}{s|S}{m|(f,r)r}{p|−γ}", rich, align: "center", verticalAlign: "middle" } },
      { type: "text", x: 11, y: 11, style: { text: "{m|R}{s|φθ}{m|A}{s|c}{m|(f,t}{s|c}{m|)}", rich, align: "center", verticalAlign: "middle" } },
      { type: "bezierCurve", shape: { x1: 69, y1: -23, cpx1: 80, cpy1: 0, x2: 69, y2: 23 }, style: { stroke: NAVY, lineWidth: 2, fill: null } },
    ],
  });

  return {
    animation: false,
    backgroundColor: "#ffffff",
    grid: grids,
    xAxis: xAxes,
    yAxis: yAxes,
    series,
    graphic: { elements: graphics },
  };
}

export default function App() {
  const ref = useRef<HTMLDivElement>(null);
  useEffect(() => {
    if (!ref.current) return;
    const chart = echarts.init(ref.current, undefined, { renderer: "svg" });
    chart.setOption(buildOption() as any);
    return () => chart.dispose();
  }, []);
  return (
    <div
      ref={ref}
      style={{ position: "fixed", left: 0, top: 0, width: 782, height: 598, background: "#fff" }}
    />
  );
}
